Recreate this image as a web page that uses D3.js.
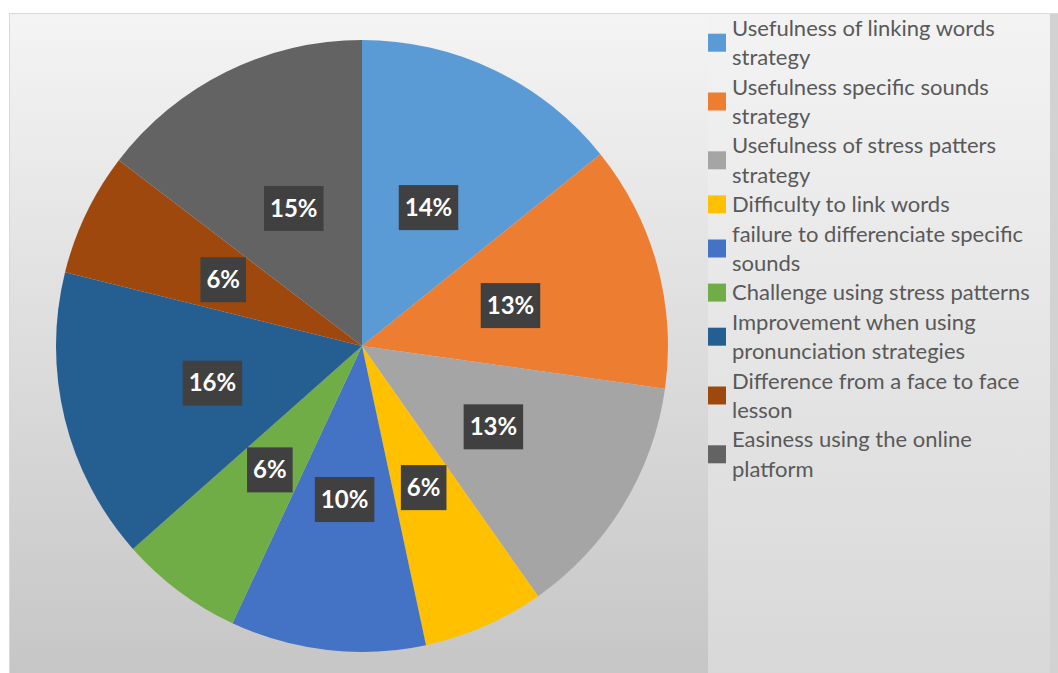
<!DOCTYPE html>
<html>
<head>
<meta charset="utf-8">
<script src="https://cdn.jsdelivr.net/npm/d3@7"></script>
<style>
  html, body { margin: 0; padding: 0; background: #fff; }
  svg { display: block; }
</style>
</head>
<body>
<div id="chart"></div>
<script>
// categories as shown in the legend (line breaks as in the picture)
const categories = [
  "Usefulness of linking words\nstrategy",
  "Usefulness specific sounds\nstrategy",
  "Usefulness of stress patters\nstrategy",
  "Difficulty to link words",
  "failure to differenciate specific\nsounds",
  "Challenge using stress patterns",
  "Improvement when using\npronunciation strategies",
  "Difference from a face to face\nlesson",
  "Easiness using the online\nplatform"
];
// slice sizes as drawn in the picture (share of the circle, %)
const sliceShares = [14.2, 13.0, 13.0, 6.4, 10.3, 6.5, 15.4, 6.5, 14.6];
// percentages printed on the data labels
const labelPct = [14, 13, 13, 6, 10, 6, 16, 6, 15];
const colors = ["#5b9bd5", "#ed7d31", "#a5a5a5", "#ffc000", "#4472c4",
                "#70ad47", "#255e91", "#9e480e", "#636363"];

const W = 1058, H = 673;
const cx = 362, cy = 346, R = 306;

const svg = d3.select("#chart").append("svg")
  .attr("width", W).attr("height", H);

// backgrounds
const defs = svg.append("defs");
const g1 = defs.append("linearGradient").attr("id", "bgPlot")
  .attr("x1", 0).attr("y1", 0).attr("x2", 0).attr("y2", 1);
g1.append("stop").attr("offset", "0%").attr("stop-color", "#f4f4f4");
g1.append("stop").attr("offset", "100%").attr("stop-color", "#c6c6c6");
const g2 = defs.append("linearGradient").attr("id", "bgLegend")
  .attr("x1", 0).attr("y1", 0).attr("x2", 0).attr("y2", 1);
g2.append("stop").attr("offset", "0%").attr("stop-color", "#f3f3f3");
g2.append("stop").attr("offset", "100%").attr("stop-color", "#d8d8d8");

svg.append("rect").attr("x", 9).attr("y", 13).attr("width", W - 9).attr("height", H - 13)
  .attr("fill", "url(#bgPlot)");
svg.append("rect").attr("x", 708).attr("y", 13).attr("width", 342).attr("height", H - 13)
  .attr("fill", "url(#bgLegend)");
svg.append("rect").attr("x", 1050).attr("y", 13).attr("width", 8).attr("height", H - 13)
  .attr("fill", "#d2d2d2");
svg.append("line").attr("x1", 9).attr("x2", W).attr("y1", 13.5).attr("y2", 13.5)
  .attr("stroke", "#d9d9d9");
svg.append("line").attr("x1", 9.5).attr("x2", 9.5).attr("y1", 13).attr("y2", H)
  .attr("stroke", "#d9d9d9");

// pie
const pie = d3.pie().sort(null).value(d => d);
const arcs = pie(sliceShares);
const arc = d3.arc().innerRadius(0).outerRadius(R);
const g = svg.append("g").attr("transform", `translate(${cx},${cy})`);

g.selectAll("path.slice")
  .data(arcs)
  .join("path")
  .attr("class", "slice")
  .attr("d", arc)
  .attr("fill", (d, i) => colors[i]);

// data labels
const labelArc = d3.arc().innerRadius(154).outerRadius(154);
const labels = g.selectAll("g.lbl")
  .data(arcs)
  .join("g")
  .attr("class", "lbl")
  .attr("transform", d => `translate(${labelArc.centroid(d)})`);

labels.append("rect").attr("fill", "#404040");
labels.append("text")
  .attr("text-anchor", "middle")
  .attr("dy", "0.36em")
  .style("font-family", "Lato, 'Open Sans', sans-serif")
  .style("font-weight", "bold")
  .style("font-size", "24px")
  .attr("fill", "#ffffff")
  .text((d, i) => labelPct[i] + "%");
labels.each(function () {
  const t = d3.select(this).select("text").node();
  const w = t.getComputedTextLength() + 12;
  d3.select(this).select("rect")
    .attr("x", -w / 2).attr("y", -22).attr("width", w).attr("height", 45);
});

// legend
const lineH = 29.4, firstY = 28, textX = 732;
const legend = svg.append("g");
let lineIdx = 0;
categories.forEach((c, i) => {
  const lines = c.split("\n");
  const top = firstY + lineIdx * lineH;
  const mid = top + (lines.length - 1) * lineH / 2;
  legend.append("rect")
    .attr("x", 708).attr("y", mid - 9)
    .attr("width", 18).attr("height", 18)
    .attr("fill", colors[i]);
  lines.forEach((ln, j) => {
    legend.append("text")
      .attr("x", textX)
      .attr("y", top + j * lineH)
      .attr("dy", "0.35em")
      .style("font-family", "Lato, 'Open Sans', sans-serif")
      .style("font-size", "22px")
      .attr("fill", "#595959")
      .text(ln);
  });
  lineIdx += lines.length;
});
</script>
</body>
</html>
